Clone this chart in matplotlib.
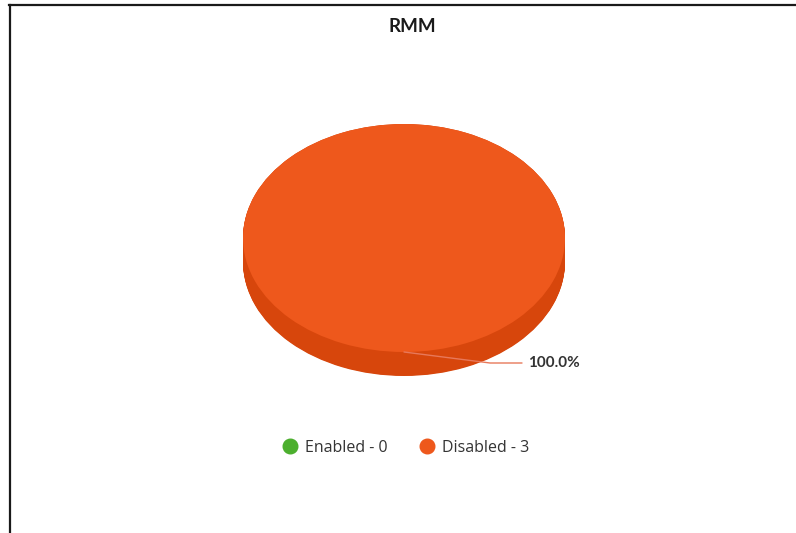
import matplotlib
matplotlib.use("Agg")
import matplotlib.pyplot as plt
from matplotlib.lines import Line2D
import numpy as np

# Chart data
title = "RMM"
labels = ["Enabled", "Disabled"]
values = [0, 3]
colors = ["#4CAF2E", "#EE581C"]
side_colors = ["#3C9424", "#D7460C"]

W, H = 796, 533
fig = plt.figure(figsize=(W / 100, H / 100), dpi=100)
fig.patch.set_facecolor("white")
ax = fig.add_axes([0, 0, 1, 1])

# pixel geometry of the pie (centre, radii, extrusion depth)
cx, cy, rx, ry, depth_px = 404, 238, 161, 114, 24
depth = depth_px / ry

# extruded side: stacked copies of the pie, shifted downward
for off in np.linspace(depth, 0.0, 40):
    ax.pie(values, colors=side_colors, startangle=90, counterclock=False,
           center=(0, -off), radius=1.0,
           wedgeprops=dict(linewidth=0, antialiased=True))

# top face
wedges, _ = ax.pie(values, colors=colors, startangle=90, counterclock=False,
                   center=(0, 0), radius=1.0,
                   wedgeprops=dict(linewidth=0, antialiased=True))

ax.set_aspect("auto")
ax.set_xlim(-cx / rx, (W - cx) / rx)
ax.set_ylim((cy - H) / ry, cy / ry)
ax.axis("off")

# percentage label with connector for each non-empty slice
total = sum(values)
for w, v in zip(wedges, values):
    if v == 0:
        continue
    mid = np.deg2rad((w.theta1 + w.theta2) / 2.0)
    x0, y0 = np.cos(mid), np.sin(mid)
    x1, y1 = x0 + 86 / rx, y0 - 11 / ry
    x2 = x1 + 32 / rx
    ax.plot([x0, x1, x2], [y0, y1, y1], color="#E8785A", lw=1.0,
            solid_capstyle="round", zorder=5)
    ax.text(x2 + 6 / rx, y1, f"{100 * v / total:.1f}%", ha="left",
            va="center", fontsize=11, fontweight="bold",
            family=["Lato", "DejaVu Sans"], color="#333333", zorder=6)

# title
fig.text(412 / W, 1 - 27 / H, title, ha="center", va="center",
         fontsize=13.5, fontweight="bold", family=["Lato", "DejaVu Sans"],
         color="#1a1a1a")

# legend
handles = [Line2D([], [], ls="", marker="o", markersize=10.5,
                  markerfacecolor=c, markeredgecolor=c)
           for c in colors]
leg_labels = [f"{l} - {v}" for l, v in zip(labels, values)]
leg = fig.legend(handles, leg_labels, loc="center",
                 bbox_to_anchor=(406 / W, 1 - 448 / H),
                 ncol=2, frameon=False, handlelength=0.9,
                 handletextpad=0.5, columnspacing=2.0,
                 prop=dict(family=["Open Sans", "DejaVu Sans"], size=11.5))
for t in leg.get_texts():
    t.set_color("#333333")

# outer frame lines (top and left)
fig.add_artist(Line2D([9 / W, 1.0], [1 - 4.5 / H, 1 - 4.5 / H],
                      transform=fig.transFigure, color="#1a1a1a", lw=1.6))
fig.add_artist(Line2D([9.5 / W, 9.5 / W], [0.0, 1 - 4.5 / H],
                      transform=fig.transFigure, color="#1a1a1a", lw=1.6))

fig.savefig("out.png", dpi=100, facecolor="white")
